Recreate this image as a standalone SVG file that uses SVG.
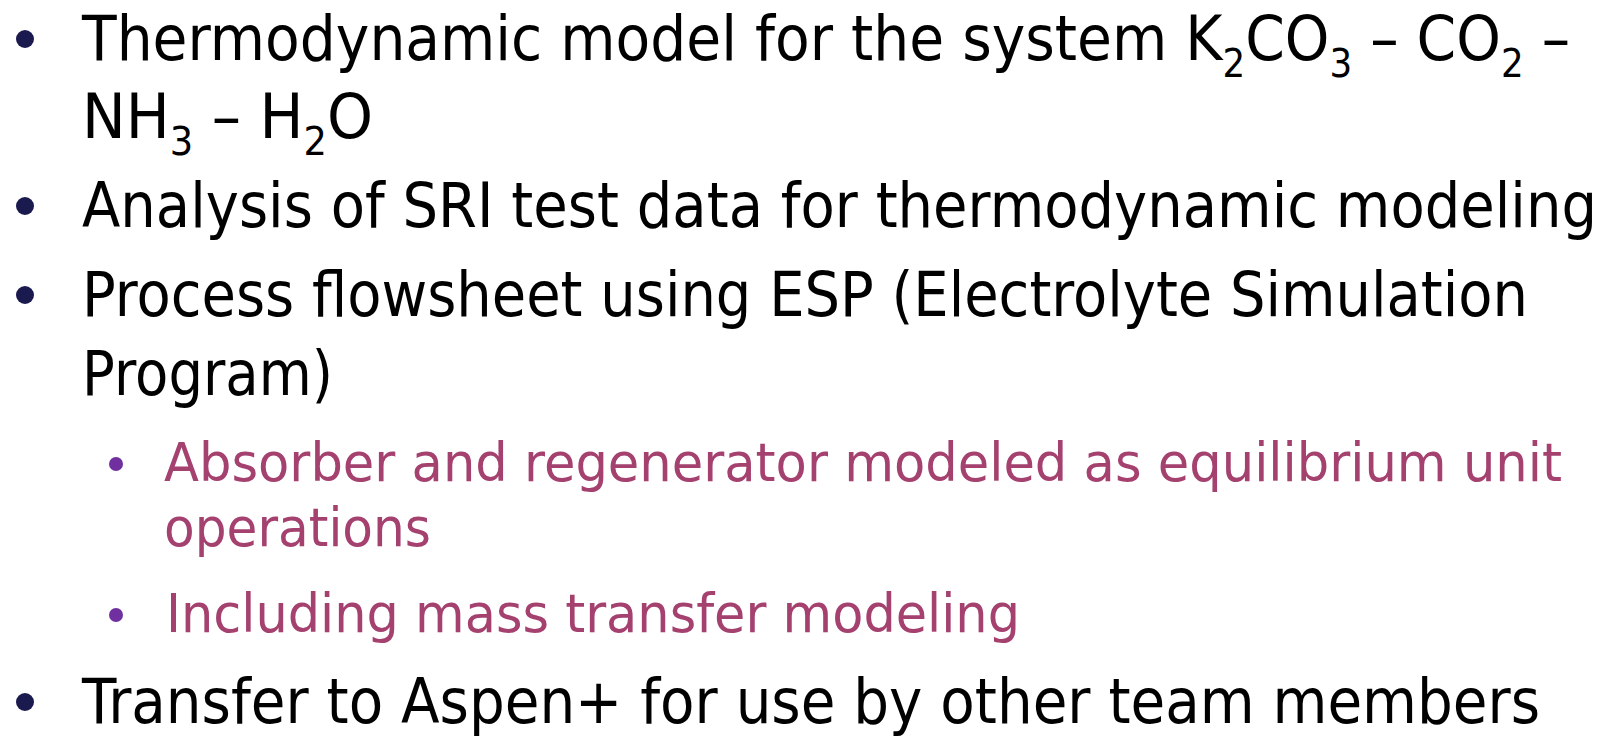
<svg xmlns="http://www.w3.org/2000/svg" width="1615" height="739" viewBox="0 0 1615 739">
<style>
.m{font-family:"DejaVu Sans","Liberation Sans",sans-serif;font-size:62px;fill:#000}
.s{font-family:"DejaVu Sans","Liberation Sans",sans-serif;font-size:54px;fill:#A5416F}
.sub{font-size:39px}
.mb{fill:#1B1A4F}
.sb{fill:#7030A0}
</style>
<rect width="1615" height="739" fill="#fff"/>
<g id="item1">
<circle class="mb" cx="25" cy="39" r="9"/>
<text class="m" x="82" y="60" textLength="1488" lengthAdjust="spacingAndGlyphs">Thermodynamic model for the system K<tspan class="sub" dy="17">2</tspan><tspan dy="-17">CO</tspan><tspan class="sub" dy="17">3</tspan><tspan dy="-17"> – CO</tspan><tspan class="sub" dy="17">2</tspan><tspan dy="-17"> –</tspan></text>
<text class="m" x="82" y="138" textLength="291" lengthAdjust="spacingAndGlyphs">NH<tspan class="sub" dy="17">3</tspan><tspan dy="-17"> – H</tspan><tspan class="sub" dy="17">2</tspan><tspan dy="-17">O</tspan></text>
</g>
<g id="item2">
<circle class="mb" cx="25" cy="206" r="9"/>
<text class="m" x="82" y="227" textLength="1515" lengthAdjust="spacingAndGlyphs">Analysis of SRI test data for thermodynamic modeling</text>
</g>
<g id="item3">
<circle class="mb" cx="25" cy="295" r="9"/>
<text class="m" x="82" y="316" textLength="1446" lengthAdjust="spacingAndGlyphs">Process flowsheet using ESP (Electrolyte Simulation</text>
<text class="m" x="82" y="395" textLength="251" lengthAdjust="spacingAndGlyphs">Program)</text>
</g>
<g id="item3a">
<circle class="sb" cx="116" cy="464" r="7"/>
<text class="s" x="164" y="481" textLength="1398" lengthAdjust="spacingAndGlyphs">Absorber and regenerator modeled as equilibrium unit</text>
<text class="s" x="164" y="546" textLength="267" lengthAdjust="spacingAndGlyphs">operations</text>
</g>
<g id="item3b">
<circle class="sb" cx="116" cy="615" r="7"/>
<text class="s" x="166" y="632" textLength="854" lengthAdjust="spacingAndGlyphs">Including mass transfer modeling</text>
</g>
<g id="item4">
<circle class="mb" cx="25" cy="702" r="9"/>
<text class="m" x="82" y="723" textLength="1458" lengthAdjust="spacingAndGlyphs">Transfer to Aspen+ for use by other team members</text>
</g>
</svg>
